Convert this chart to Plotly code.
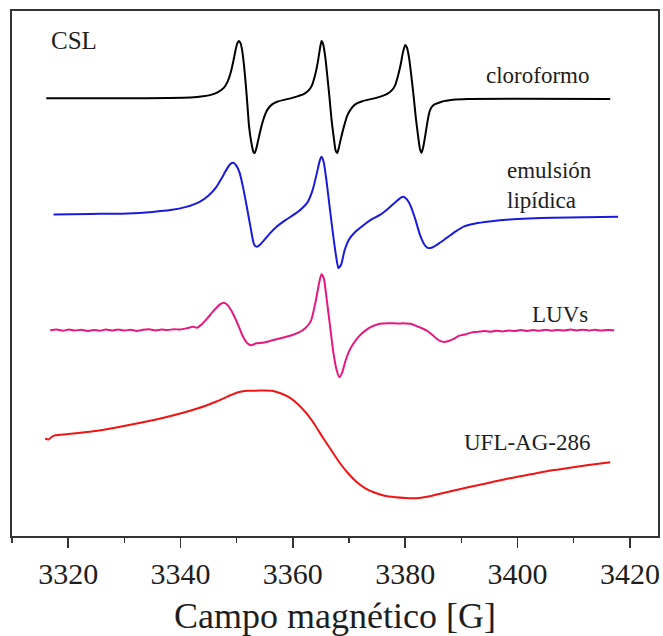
import plotly.graph_objects as go

# ---------------- data (magnetic field in G, signal in arbitrary units) ----------------
cloro_x = [3316.1, 3330.0, 3338.0, 3341.8, 3344.0, 3345.4, 3346.6, 3347.7, 3348.4, 3348.9,
           3349.4, 3349.8, 3350.1, 3350.4, 3350.7, 3351.0, 3351.3, 3351.6, 3351.9, 3352.2,
           3352.6, 3353.0, 3353.2, 3353.5, 3353.9, 3354.4, 3355.0, 3355.5, 3356.3, 3357.2,
           3358.4, 3359.6, 3360.8, 3362.0, 3362.8, 3363.4, 3363.9, 3364.4, 3364.8, 3365.1,
           3365.4, 3365.8, 3366.1, 3366.5, 3366.9, 3367.3, 3367.6, 3367.9, 3368.2, 3368.6,
           3369.1, 3369.7, 3370.3, 3371.1, 3372.1, 3373.3, 3374.5, 3375.7, 3376.8, 3377.6,
           3378.2, 3378.7, 3379.2, 3379.6, 3380.0, 3380.3, 3380.7, 3381.1, 3381.5, 3381.9,
           3382.3, 3382.6, 3382.9, 3383.2, 3383.6, 3384.0, 3384.4, 3385.0, 3386.5, 3388.5,
           3391.1, 3400.0, 3416.5]
cloro_y = [0, 0, 0.3, 0.8, 2, 3.5, 6, 10.5, 17, 25,
           37, 48.3, 55, 57.3, 55, 47, 33, 15, -6, -28,
           -44, -54, -54.7, -50, -40, -28, -17, -11, -6, -3.4,
           -1.5, 0, 2, 4.5, 8, 13, 22, 35, 49, 57.3,
           54, 40, 24, 2, -22, -40, -52, -54.7, -49, -39,
           -28, -17, -11, -6, -3.4, -1.5, 0, 2, 4.5, 8,
           13, 22, 34, 46, 53.3, 51, 40, 22, 2, -20,
           -38, -50, -54.7, -49, -36, -22, -12, -7, -3.4, -1.5,
           -0.7, -0.5, -0.7]

emul_x = [3317.4, 3324.0, 3330.6, 3335.0, 3338.2, 3341.0, 3343.4, 3345.0, 3346.4, 3347.4,
          3348.2, 3348.9, 3349.4, 3349.9, 3350.5, 3351.1, 3351.8, 3352.5, 3353.1, 3353.6,
          3354.2, 3355.0, 3356.0, 3357.1, 3358.6, 3360.1, 3361.5, 3362.6, 3363.5, 3364.3,
          3364.8, 3365.1, 3365.5, 3366.0, 3366.6, 3367.2, 3367.7, 3368.1, 3368.6, 3369.2,
          3370.0, 3371.0, 3372.5, 3374.0, 3375.5, 3377.0, 3378.3, 3379.3, 3379.7, 3380.3,
          3381.0, 3381.8, 3382.6, 3383.3, 3384.0, 3384.8, 3386.0, 3387.5, 3389.0, 3390.5,
          3392.5, 3395.0, 3398.6, 3402.0, 3406.2, 3412.0, 3417.9]
emul_y = [0, 0.5, 1, 2.5, 4.3, 7.5, 12.6, 19, 27.6, 37,
          45, 50.5, 51.6, 49, 42, 28, 7.6, -14, -30, -32.4,
          -30, -25, -18.5, -12.4, -6, -0.5, 5.5, 12, 24, 42,
          54, 57.6, 52, 33, 5, -22, -42, -53.5, -50, -36,
          -25, -18, -11, -5, -0.5, 6, 12.5, 17, 17.6, 15,
          8, -5, -20, -29, -33.5, -33, -29, -23, -17, -12,
          -9, -7, -5, -4, -3.4, -2.8, -2.4]

luvs_x = [3316.8, 3317.9, 3319.0, 3320.1, 3321.2, 3322.3, 3323.4, 3324.5, 3325.6, 3326.7,
          3327.8, 3328.9, 3330.0, 3331.1, 3332.2, 3333.3, 3334.4, 3335.5, 3336.6, 3337.7,
          3338.8, 3339.9, 3341.0, 3341.8, 3342.3, 3342.9, 3343.8, 3344.8, 3346.0, 3347.1,
          3347.7, 3348.4, 3349.3, 3350.2, 3351.0, 3351.9, 3352.6, 3353.5, 3354.6, 3355.8,
          3357.1, 3358.5, 3359.8, 3361.0, 3362.2, 3363.2, 3364.1, 3364.7, 3365.1, 3365.5,
          3366.0, 3366.6, 3367.2, 3367.8, 3368.3, 3368.8, 3369.4, 3370.1, 3370.7, 3371.8,
          3373.0, 3374.2, 3375.5, 3377.0, 3378.5, 3380.0, 3381.0, 3382.3, 3383.7, 3384.7,
          3385.5, 3386.3, 3386.9, 3387.6, 3388.5, 3389.6, 3390.8, 3392.0, 3392.9, 3394.0,
          3395.1, 3396.2, 3397.3, 3398.4, 3399.5, 3400.6, 3401.7, 3402.8, 3403.9, 3405.0,
          3406.1, 3407.2, 3408.3, 3409.4, 3410.5, 3411.6, 3412.7, 3413.8, 3414.9, 3416.0,
          3417.2]
luvs_y = [0, 0.8, -0.6, 0.7, -0.4, 0.5, -0.8, 0.3, -0.5, 0.6,
          -0.3, 0.8, -0.4, 0.5, -0.7, 0.4, 0.9, -0.2, 0.6, 0.1,
          1.0, 0.6, 1.8, 3.0, 3.5, 2.5, 6, 12, 20, 26,
          27.5, 25, 17, 6, -5, -13, -15, -13, -12.5, -11,
          -9, -7, -5, -2.5, 2, 9, 30, 48, 56, 52,
          32, 5, -22, -40, -47, -42, -30, -20, -14, -6,
          0, 4, 6.5, 7, 6.8, 6.8, 6.5, 3.5, 0, -4,
          -8, -11, -11.7, -11, -9, -5.5, -4, -2, -1.7, -0.8,
          -1.5, -0.5, -1.2, -0.3, -0.9, 0.2, -0.8, 0.1, -0.6, 0.4,
          -0.5, 0.3, -0.4, 0.6, -0.2, 0.5, -0.3, 0.4, -0.4, 0.3,
          0]

ufl_x = [3315.9, 3316.5, 3317.1, 3317.7, 3320.0, 3325.2, 3330.6, 3337.0, 3343.0, 3346.5,
         3348.9, 3350.3, 3352.0, 3353.4, 3355.0, 3356.3, 3357.8, 3359.3, 3360.8, 3362.4,
         3363.9, 3365.3, 3366.9, 3368.4, 3369.9, 3371.4, 3372.9, 3374.4, 3376.3, 3378.3,
         3380.1, 3382.0, 3383.9, 3385.8, 3388.5, 3391.2, 3395.0, 3398.6, 3402.4, 3406.2,
         3409.3, 3412.3, 3416.5]
ufl_y = [1.7, 0.7, 3.5, 5, 6.2, 9.5, 15, 22.5, 31.7, 39,
         45, 48, 49.5, 49.5, 49.8, 49.5, 47, 43, 36.5, 27,
         15.5, 3, -10.5, -23, -33.5, -42, -48, -52, -55.5, -57,
         -57.7, -58, -56.5, -54, -50.5, -47, -42.5, -38, -34, -30,
         -27.5, -25, -22]

offsets = [0, -116, -231.7, -341.7]
names = ["cloroformo", "emulsión lipídica", "LUVs", "UFL-AG-286"]
colors = ["#000000", "#1a1adf", "#e8177d", "#f01414"]
xs = [cloro_x, emul_x, luvs_x, ufl_x]
ys = [cloro_y, emul_y, luvs_y, ufl_y]

x_ticks = [3320, 3340, 3360, 3380, 3400, 3420]

fig = go.Figure()
for x, y, off, c, n in zip(xs, ys, offsets, colors, names):
    fig.add_trace(go.Scatter(
        x=x, y=[v + off for v in y], mode="lines", name=n,
        line=dict(color=c, width=2, shape="spline", smoothing=0.6),
        showlegend=False, hoverinfo="skip"))

serif = "Liberation Serif, Times New Roman, serif"
fig.update_layout(
    width=663, height=636,
    margin=dict(l=12, r=5, t=11, b=100),
    paper_bgcolor="white", plot_bgcolor="white",
    font=dict(family=serif, color="#1e1e1e"),
    xaxis=dict(
        range=[3310, 3425], tickvals=x_ticks, ticks="outside", ticklen=10, tickwidth=1.5,
        tickcolor="#333333", showline=True, linecolor="#333333", linewidth=2, mirror=True,
        showgrid=False, zeroline=False, automargin=False,
        tickfont=dict(size=30, family=serif, color="#1e1e1e"),
        minor=dict(dtick=10, tick0=3310, ticks="outside", ticklen=5, tickwidth=1.5,
                   tickcolor="#333333", showgrid=False),
        title=dict(text="Campo magnético [G]", font=dict(size=36, family=serif, color="#1e1e1e"),
                   standoff=14),
    ),
    yaxis=dict(
        range=[-437.4, 87.3], showticklabels=False, ticks="", showline=True, automargin=False,
        linecolor="#333333", linewidth=2, mirror=True, showgrid=False, zeroline=False,
    ),
)

ann = [
    ("CSL", 0.0957, 0.944, "center", 25),
    ("cloroformo", 0.8127, 0.877, "center", 23),
    ("emulsión<br>lipídica", 0.7636, 0.668, "left", 23),
    ("LUVs", 0.8488, 0.4216, "center", 23),
    ("UFL-AG-286", 0.7977, 0.1786, "center", 23),
]
for text, ax_, ay_, xa, fs in ann:
    fig.add_annotation(text=text, x=ax_, y=ay_, xref="paper", yref="paper",
                       xanchor=xa, yanchor="middle", align="left", showarrow=False,
                       font=dict(size=fs, family=serif, color="#1e1e1e"))

fig.write_html("out.html", config={"displayModeBar": False, "staticPlot": True},
               post_script="document.body.style.margin='0';document.body.style.overflow='hidden';")
